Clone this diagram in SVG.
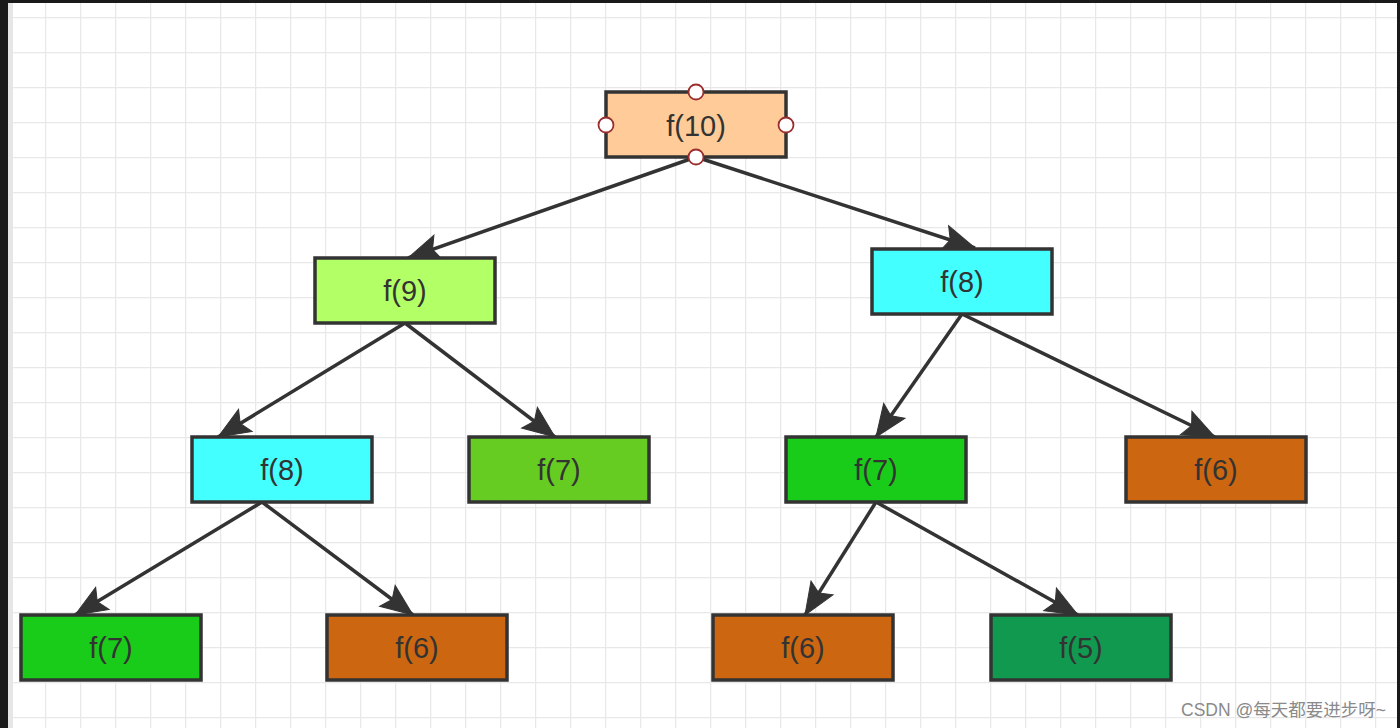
<svg xmlns="http://www.w3.org/2000/svg" width="1400" height="728" viewBox="0 0 1400 728">
<style>
.box{stroke:#333333;stroke-width:3.5}
.lbl{font-family:"Liberation Sans",Arial,sans-serif;font-size:29px;fill:#333333;text-anchor:middle;dominant-baseline:central}
.edge{stroke:#333333;stroke-width:3.5;fill:none}
.handle{fill:#ffffff;stroke:#9b2d2d;stroke-width:1.8}
.head{fill:#333333;stroke:#333333;stroke-width:1;stroke-linejoin:miter}
</style>
<defs>
<pattern id="grid" x="10" y="17" width="35" height="35" patternUnits="userSpaceOnUse">
<path d="M0 0 V35 M0 0 H35" stroke="#e8e8e8" stroke-width="2.5" fill="none"/>
</pattern>
<marker id="arr" viewBox="0 0 36 30" refX="34" refY="15" markerWidth="36" markerHeight="30" markerUnits="userSpaceOnUse" orient="auto" overflow="visible">
<path class="head" d="M34 15 L2 2 L8 15 L2 28 Z"/>
</marker>
</defs>
<rect x="0" y="0" width="1400" height="728" fill="#ffffff"/>
<rect x="0" y="0" width="1400" height="728" fill="url(#grid)"/>
<rect x="8" y="3" width="5" height="725" fill="#e6e6e6"/>
<rect x="0" y="0" width="8" height="728" fill="#1a1a1a"/>
<rect x="0" y="0" width="1400" height="3" fill="#1a1a1a"/>
<rect x="1397" y="0" width="3" height="728" fill="#1a1a1a"/>
<g id="connectors">
<line class="edge" x1="696" y1="157" x2="408" y2="258" marker-end="url(#arr)"/>
<line class="edge" x1="696" y1="157" x2="975" y2="248" marker-end="url(#arr)"/>
<line class="edge" x1="405" y1="323" x2="218" y2="437" marker-end="url(#arr)"/>
<line class="edge" x1="405" y1="323" x2="555" y2="437" marker-end="url(#arr)"/>
<line class="edge" x1="962" y1="314" x2="876" y2="437" marker-end="url(#arr)"/>
<line class="edge" x1="962" y1="314" x2="1215" y2="437" marker-end="url(#arr)"/>
<line class="edge" x1="262" y1="502" x2="75" y2="615" marker-end="url(#arr)"/>
<line class="edge" x1="262" y1="502" x2="413" y2="615" marker-end="url(#arr)"/>
<line class="edge" x1="876" y1="502" x2="805" y2="615" marker-end="url(#arr)"/>
<line class="edge" x1="876" y1="502" x2="1078" y2="615" marker-end="url(#arr)"/>
</g>
<g id="n10">
<rect class="box" x="606" y="92" width="180" height="65" fill="#ffcc99"/>
<text class="lbl" x="696" y="126">f(10)</text>
<circle class="handle" cx="696" cy="92" r="7.5"/>
<circle class="handle" cx="606" cy="125" r="7.5"/>
<circle class="handle" cx="786" cy="125" r="7.5"/>
<circle class="handle" cx="696" cy="157" r="7.5"/>
</g>
<g id="n9">
<rect class="box" x="315" y="258" width="180" height="65" fill="#b3ff66"/>
<text class="lbl" x="405" y="291">f(9)</text>
</g>
<g id="n8r">
<rect class="box" x="872" y="249" width="180" height="65" fill="#44ffff"/>
<text class="lbl" x="962" y="282">f(8)</text>
</g>
<g id="n8l">
<rect class="box" x="192" y="437" width="180" height="65" fill="#44ffff"/>
<text class="lbl" x="282" y="470">f(8)</text>
</g>
<g id="n7a">
<rect class="box" x="469" y="437" width="180" height="65" fill="#66cc22"/>
<text class="lbl" x="559" y="470">f(7)</text>
</g>
<g id="n7b">
<rect class="box" x="786" y="437" width="180" height="65" fill="#1acc1a"/>
<text class="lbl" x="876" y="470">f(7)</text>
</g>
<g id="n6a">
<rect class="box" x="1126" y="437" width="180" height="65" fill="#cc6611"/>
<text class="lbl" x="1216" y="470">f(6)</text>
</g>
<g id="n7c">
<rect class="box" x="21" y="615" width="180" height="65" fill="#1acc1a"/>
<text class="lbl" x="111" y="648">f(7)</text>
</g>
<g id="n6b">
<rect class="box" x="327" y="615" width="180" height="65" fill="#cc6611"/>
<text class="lbl" x="417" y="648">f(6)</text>
</g>
<g id="n6c">
<rect class="box" x="713" y="615" width="180" height="65" fill="#cc6611"/>
<text class="lbl" x="803" y="648">f(6)</text>
</g>
<g id="n5">
<rect class="box" x="991" y="615" width="180" height="65" fill="#119950"/>
<text class="lbl" x="1081" y="648">f(5)</text>
</g>
<text x="1386" y="716" text-anchor="end" font-family="'Liberation Sans','Noto Sans CJK SC',sans-serif" font-size="17.5" fill="#8a8a8a">CSDN @每天都要进步呀~</text>
</svg>
